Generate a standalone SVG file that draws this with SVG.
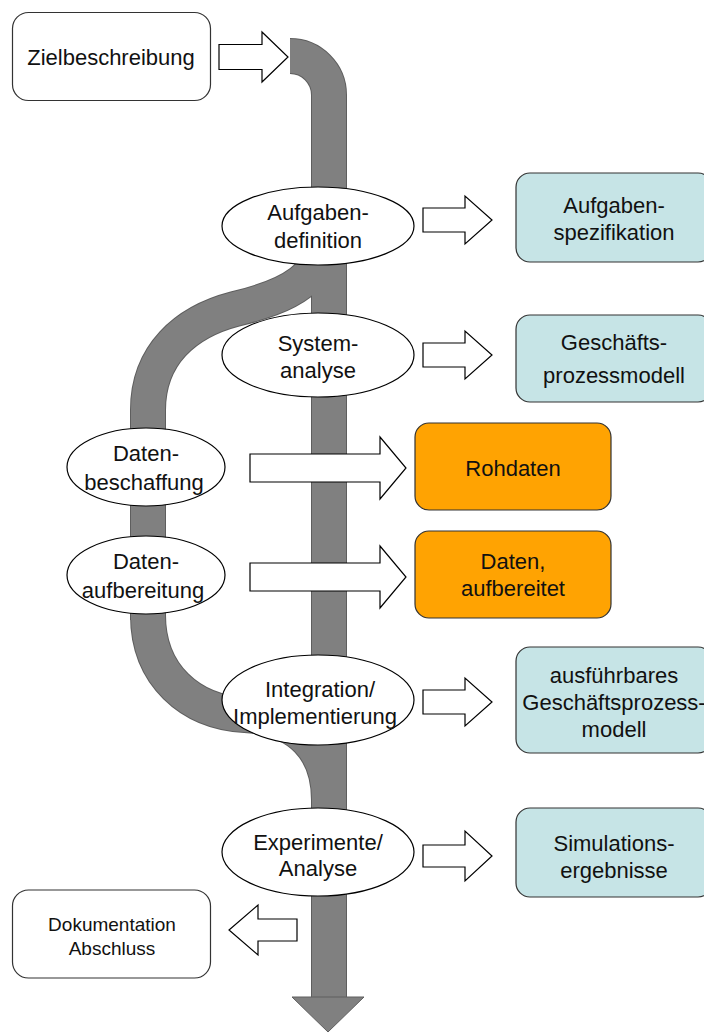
<svg xmlns="http://www.w3.org/2000/svg" width="704" height="1033" viewBox="0 0 704 1033">
<style>
text{font-family:"Liberation Sans",Arial,sans-serif;font-size:22px;fill:#111;text-anchor:middle}
.small{font-size:19px}
.pipeO{fill:none;stroke:#5e5e5e;stroke-width:36}
.pipeF{fill:none;stroke:#808080;stroke-width:34}
.ell{fill:#fff;stroke:#000;stroke-width:1.2}
.harrow{fill:#fff;stroke:#000;stroke-width:1.2;stroke-linejoin:miter}
.boxW{fill:#fff;stroke:#333;stroke-width:1.2}
.boxC{fill:#C6E4E6;stroke:#333;stroke-width:1.2}
.boxO{fill:#FFA302;stroke:#333;stroke-width:1.2}
</style>
<rect width="704" height="1033" fill="#fff"/>
<g id="connectors">
  <path class="pipeO" d="M290 56 A39 39 0 0 1 329 95 L329 998"/>
  <path class="pipeO" d="M148 620 L148 410 C148 355 185 322 235 309 C285 297 329 280 329 220"/>
  <path class="pipeO" d="M148 560 L148 615 C148 675 190 712 245 715 C300 718 329 750 329 800"/>
  <path class="pipeF" d="M290 56 A39 39 0 0 1 329 95 L329 998"/>
  <path class="pipeF" d="M148 620 L148 410 C148 355 185 322 235 309 C285 297 329 280 329 220"/>
  <path class="pipeF" d="M148 560 L148 615 C148 675 190 712 245 715 C300 718 329 750 329 800"/>
  <polygon points="292,997 364,997 328,1032" fill="#808080" stroke="#5e5e5e" stroke-width="1"/>
  <polygon class="harrow" points="219,44.5 262,44.5 262,32 288,57 262,82 262,69.5 219,69.5"/>
  <polygon class="harrow" points="423,208 465,208 465,196 492,220 465,244 465,232 423,232"/>
  <polygon class="harrow" points="423,343 465,343 465,331 492,355 465,379 465,367 423,367"/>
  <polygon class="harrow" points="250,454 380,454 380,437 406,468 380,499 380,482 250,482"/>
  <polygon class="harrow" points="250,563 380,563 380,546 406,577 380,608 380,591 250,591"/>
  <polygon class="harrow" points="423,690 465,690 465,678 492,702 465,726 465,714 423,714"/>
  <polygon class="harrow" points="423,845 465,845 465,831 492,856 465,881 465,867 423,867"/>
  <polygon class="harrow" points="297,919 258,919 258,905 229,930 258,955 258,941 297,941"/>
</g>
<g id="n-ziel">
  <rect class="boxW" x="12.5" y="12.5" width="198" height="88" rx="16"/>
  <text x="111" y="65">Zielbeschreibung</text>
</g>
<g id="n-aufgabendef">
  <ellipse class="ell" cx="318" cy="226" rx="96" ry="39"/>
  <text x="318" y="220">Aufgaben-</text>
  <text x="318" y="248">definition</text>
</g>
<g id="n-systemanalyse">
  <ellipse class="ell" cx="318" cy="355" rx="96" ry="42"/>
  <text x="318" y="351">System-</text>
  <text x="318" y="378">analyse</text>
</g>
<g id="n-datenbeschaffung">
  <ellipse class="ell" cx="146" cy="467" rx="79" ry="39"/>
  <text x="146" y="461">Daten-</text>
  <text x="144" y="490">beschaffung</text>
</g>
<g id="n-datenaufbereitung">
  <ellipse class="ell" cx="146" cy="575" rx="79" ry="39"/>
  <text x="146" y="569">Daten-</text>
  <text x="143" y="598">aufbereitung</text>
</g>
<g id="n-integration">
  <ellipse class="ell" cx="318" cy="700" rx="96" ry="45"/>
  <text x="320" y="697">Integration/</text>
  <text x="315" y="724">Implementierung</text>
</g>
<g id="n-experimente">
  <ellipse class="ell" cx="318" cy="852" rx="96" ry="44"/>
  <text x="318" y="850">Experimente/</text>
  <text x="318" y="876">Analyse</text>
</g>
<g id="n-aufgabenspez">
  <rect class="boxC" x="516" y="173" width="196" height="89" rx="14"/>
  <text x="614" y="213">Aufgaben-</text>
  <text x="614" y="240">spezifikation</text>
</g>
<g id="n-gpm">
  <rect class="boxC" x="516" y="315" width="196" height="87" rx="14"/>
  <text x="614" y="350">Geschäfts-</text>
  <text x="614" y="383">prozessmodell</text>
</g>
<g id="n-rohdaten">
  <rect class="boxO" x="415" y="423" width="196" height="87" rx="14"/>
  <text x="513" y="476">Rohdaten</text>
</g>
<g id="n-datenaufb">
  <rect class="boxO" x="415" y="531" width="196" height="87" rx="14"/>
  <text x="513" y="569">Daten,</text>
  <text x="513" y="596">aufbereitet</text>
</g>
<g id="n-ausfuehrbar">
  <rect class="boxC" x="516" y="647" width="196" height="106" rx="14"/>
  <text x="614" y="683">ausführbares</text>
  <text x="614" y="710">Geschäftsprozess-</text>
  <text x="614" y="737">modell</text>
</g>
<g id="n-simulation">
  <rect class="boxC" x="516" y="808" width="196" height="89" rx="14"/>
  <text x="614" y="851">Simulations-</text>
  <text x="614" y="878">ergebnisse</text>
</g>
<g id="n-doku">
  <rect class="boxW" x="12.5" y="890" width="198" height="88" rx="16"/>
  <text class="small" x="112" y="931">Dokumentation</text>
  <text class="small" x="112" y="955">Abschluss</text>
</g>
</svg>
